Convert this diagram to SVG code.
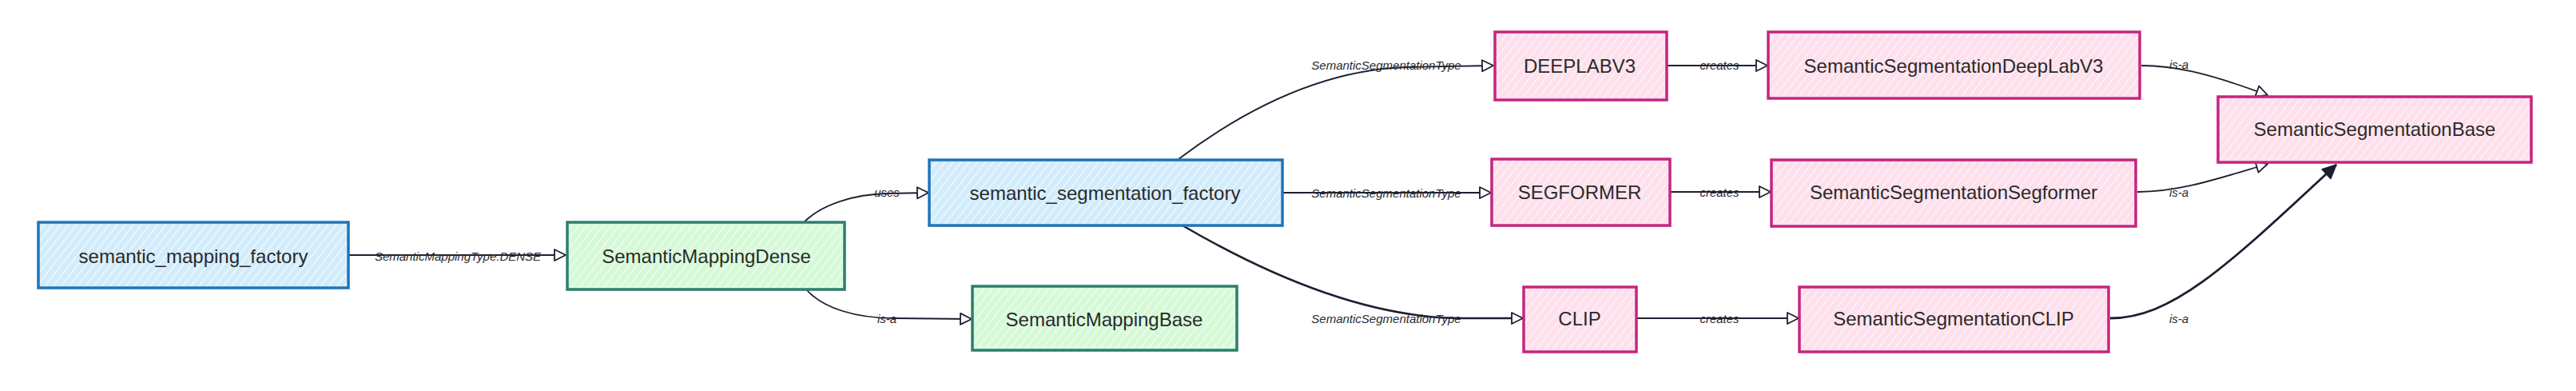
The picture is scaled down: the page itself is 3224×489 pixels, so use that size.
<svg xmlns="http://www.w3.org/2000/svg" width="3224" height="489" viewBox="0 0 3224 489">
<style>
.lbl{font-family:"Liberation Sans",Arial,sans-serif;font-size:24px;fill:#2a2a2a;text-anchor:middle;dominant-baseline:central}
.el{font-family:"Liberation Sans",Arial,sans-serif;font-size:15px;font-style:italic;fill:#2a2a33;text-anchor:middle;dominant-baseline:central}
.edge{fill:none;stroke:#1b2030;stroke-width:1.8}
.blue{fill:url(#hb);stroke:#1f74b8;stroke-width:3.5}
.green{fill:url(#hg);stroke:#2e7d6e;stroke-width:3.5}
.pink{fill:url(#hp);stroke:#c4267f;stroke-width:3.5}
</style>
<defs>
<pattern id="hb" patternUnits="userSpaceOnUse" width="8" height="8" patternTransform="rotate(38)">
<rect width="8" height="8" fill="#d2ecfc"/><line x1="0" y1="0" x2="0" y2="8" stroke="#f4fbff" stroke-width="2.5"/>
</pattern>
<pattern id="hg" patternUnits="userSpaceOnUse" width="8" height="8" patternTransform="rotate(38)">
<rect width="8" height="8" fill="#d6fad8"/><line x1="0" y1="0" x2="0" y2="8" stroke="#f3fff3" stroke-width="2.5"/>
</pattern>
<pattern id="hp" patternUnits="userSpaceOnUse" width="8" height="8" patternTransform="rotate(38)">
<rect width="8" height="8" fill="#fde0ec"/><line x1="0" y1="0" x2="0" y2="8" stroke="#fff5f9" stroke-width="2.5"/>
</pattern>
<marker id="ao" markerUnits="userSpaceOnUse" markerWidth="20" markerHeight="20" viewBox="0 0 20 20" refX="18" refY="10" orient="auto">
<path d="M4,3 L18,10 L4,17 Z" fill="#ffffff" stroke="#1b2030" stroke-width="1.8" stroke-linejoin="round"/>
</marker>
<marker id="af" markerUnits="userSpaceOnUse" markerWidth="22" markerHeight="22" viewBox="0 0 22 22" refX="20" refY="11" orient="auto">
<path d="M3,3 L20,11 L3,19 Z" fill="#1b2030" stroke="#1b2030" stroke-width="1.5" stroke-linejoin="round"/>
</marker>
</defs>

<g id="connectors">
<path class="edge" d="M436,319 L708,319" marker-end="url(#ao)"/>
<path class="edge" d="M1007,277 C1030,255 1070,243 1110,242 L1162,241" marker-end="url(#ao)"/>
<path class="edge" d="M1010,363 C1030,385 1070,398 1120,398 L1216,399" marker-end="url(#ao)"/>
<path class="edge" d="M1475,199 C1540,150 1640,88 1760,84 L1869,82" marker-end="url(#ao)"/>
<path class="edge" d="M1605,241 L1866,241" marker-end="url(#ao)"/>
<path class="edge" style="stroke-width:2.6" d="M1480,282 C1600,352 1720,398 1830,398 L1906,398" marker-end="url(#ao)"/>
<path class="edge" d="M2086,82 L2212,82" marker-end="url(#ao)"/>
<path class="edge" d="M2090,240 L2216,240" marker-end="url(#ao)"/>
<path class="edge" d="M2048,398 L2251,398" marker-end="url(#ao)"/>
<path class="edge" d="M2680,82 C2720,82 2760,90 2838,119" marker-end="url(#ao)"/>
<path class="edge" d="M2675,240 C2730,240 2780,222 2838,205" marker-end="url(#ao)"/>
<path class="edge" style="stroke-width:2.8" d="M2641,398 C2720,398 2790,330 2924,206" marker-end="url(#af)"/>
<text class="el" x="573" y="320">SemanticMappingType.DENSE</text>
<text class="el" x="1110" y="240">uses</text>
<text class="el" x="1110" y="398">is-a</text>
<text class="el" x="1735" y="81">SemanticSegmentationType</text>
<text class="el" x="1735" y="241">SemanticSegmentationType</text>
<text class="el" x="1735" y="398">SemanticSegmentationType</text>
<text class="el" x="2152" y="81">creates</text>
<text class="el" x="2152" y="240">creates</text>
<text class="el" x="2152" y="398">creates</text>
<text class="el" x="2727" y="80">is-a</text>
<text class="el" x="2727" y="240">is-a</text>
<text class="el" x="2727" y="398">is-a</text>
</g>

<g id="semantic_mapping_factory"><rect class="blue" x="48" y="278" width="388" height="82"/><text class="lbl" x="242" y="320">semantic_mapping_factory</text></g>
<g id="SemanticMappingDense"><rect class="green" x="710" y="278" width="347" height="84"/><text class="lbl" x="884" y="320">SemanticMappingDense</text></g>
<g id="semantic_segmentation_factory"><rect class="blue" x="1163" y="200" width="442" height="82"/><text class="lbl" x="1383" y="241">semantic_segmentation_factory</text></g>
<g id="SemanticMappingBase"><rect class="green" x="1217" y="358" width="331" height="80"/><text class="lbl" x="1382" y="399">SemanticMappingBase</text></g>
<g id="DEEPLABV3"><rect class="pink" x="1871" y="40" width="215" height="85"/><text class="lbl" x="1977" y="82">DEEPLABV3</text></g>
<g id="SEGFORMER"><rect class="pink" x="1867" y="199" width="223" height="83"/><text class="lbl" x="1977" y="240">SEGFORMER</text></g>
<g id="CLIP"><rect class="pink" x="1907" y="359" width="141" height="81"/><text class="lbl" x="1977" y="398">CLIP</text></g>
<g id="SemanticSegmentationDeepLabV3"><rect class="pink" x="2213" y="40" width="465" height="83"/><text class="lbl" x="2445" y="82">SemanticSegmentationDeepLabV3</text></g>
<g id="SemanticSegmentationSegformer"><rect class="pink" x="2217" y="200" width="456" height="83"/><text class="lbl" x="2445" y="240">SemanticSegmentationSegformer</text></g>
<g id="SemanticSegmentationCLIP"><rect class="pink" x="2252" y="359" width="387" height="81"/><text class="lbl" x="2445" y="398">SemanticSegmentationCLIP</text></g>
<g id="SemanticSegmentationBase"><rect class="pink" x="2776" y="121" width="392" height="82"/><text class="lbl" x="2972" y="161">SemanticSegmentationBase</text></g>
</svg>
